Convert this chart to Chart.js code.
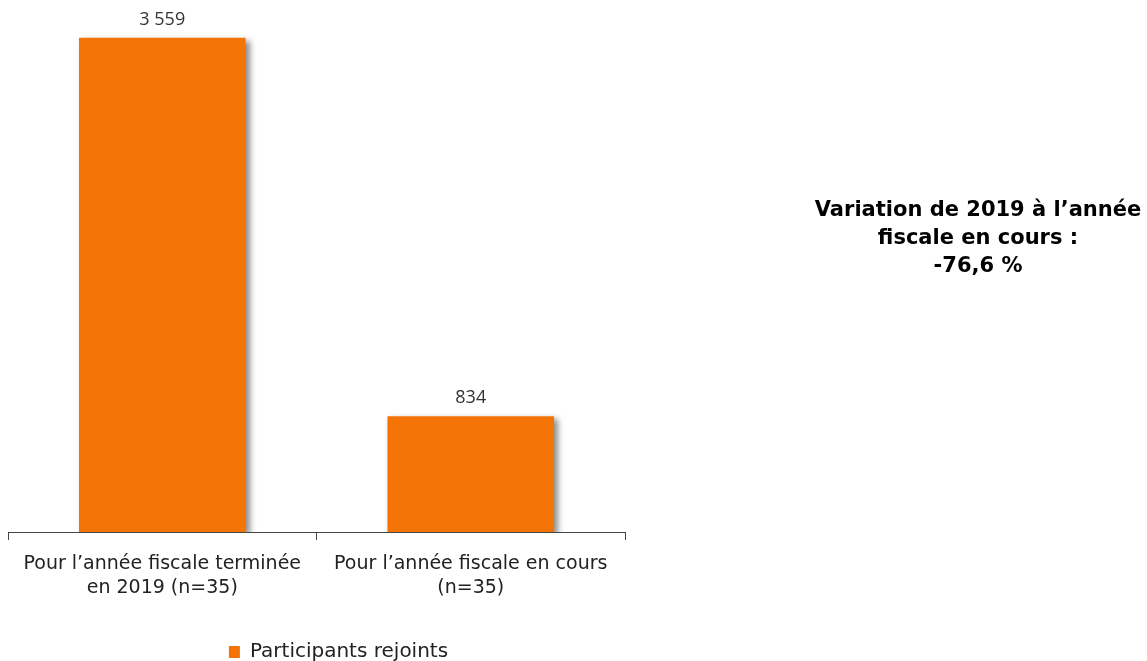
<!DOCTYPE html>
<html>
<head>
<meta charset="utf-8">
<script src="https://cdn.jsdelivr.net/npm/chart.js@4/dist/chart.umd.min.js"></script>
<style>
html,body{margin:0;padding:0;background:#fff;overflow:hidden;}
#wrap{position:relative;width:1147px;height:661px;overflow:hidden;}
</style>
</head>
<body>
<div id="wrap"><canvas id="c" width="1147" height="672"></canvas></div>
<script>
const categories = [["Pour l\u2019ann\u00e9e fiscale termin\u00e9e", "en 2019 (n=35)"], ["Pour l\u2019ann\u00e9e fiscale en cours", "(n=35)"]];
const seriesName = "Participants rejoints";
const values = [3559, 834];
const noteLines = ["Variation de 2019 \u00e0 l\u2019ann\u00e9e", "fiscale en cours :", "-76,6 %"];

const ORANGE = "#F47408";
const FONT = "'DejaVu Sans', sans-serif";

function fmt(v){ return String(v).replace(/\B(?=(\d{3})+(?!\d))/g, " "); }

const shadowPlugin = {
  id: "barShadow",
  beforeDatasetsDraw(chart){
    const ctx = chart.ctx;
    ctx.save();
    ctx.shadowColor = "rgba(0,0,0,0.45)";
    ctx.shadowBlur = 6;
    ctx.shadowOffsetX = 4;
    ctx.shadowOffsetY = 3;
  },
  afterDatasetsDraw(chart){
    chart.ctx.restore();
  }
};

const labelPlugin = {
  id: "valueLabels",
  afterDatasetsDraw(chart){
    const ctx = chart.ctx;
    const meta = chart.getDatasetMeta(0);
    ctx.save();
    ctx.fillStyle = "#333";
    ctx.font = "18px 'Open Sans', sans-serif";
    ctx.textAlign = "center";
    ctx.textBaseline = "middle";
    meta.data.forEach((bar, i) => {
      ctx.fillText(fmt(values[i]), bar.x, bar.y - 18);
    });
    ctx.restore();
  }
};

const notePlugin = {
  id: "note",
  afterDraw(chart){
    const ctx = chart.ctx;
    ctx.save();
    ctx.fillStyle = "#000";
    ctx.font = "bold 21px " + FONT;
    ctx.textAlign = "center";
    ctx.textBaseline = "middle";
    noteLines.forEach((t, i) => ctx.fillText(t, 978, 211 + i * 28));
    ctx.restore();
  }
};

const legendShift = {
  id: "legendShift",
  afterLayout(chart){
    if (chart.legend) { chart.legend.left += 22; chart.legend.right += 22; }
  }
};

new Chart(document.getElementById("c"), {
  type: "bar",
  data: {
    labels: categories,
    datasets: [{
      label: seriesName,
      data: values,
      backgroundColor: ORANGE,
      borderWidth: 0,
      categoryPercentage: 1,
      barPercentage: 0.54
    }]
  },
  options: {
    responsive: false,
    animation: false,
    layout: { padding: { left: 8, right: 522, top: 0, bottom: 0 } },
    scales: {
      x: {
        grid: { display: true, drawOnChartArea: false, drawTicks: true, tickLength: 8, color: "#444", offset: true },
        border: { display: true, color: "#444", width: 1 },
        ticks: { color: "#222", font: { family: FONT, size: 19, lineHeight: "24px" }, padding: 12, maxRotation: 0, autoSkip: false }
      },
      y: {
        display: false,
        min: 0,
        max: 3830
      }
    },
    plugins: {
      legend: {
        position: "bottom",
        labels: { boxWidth: 11, boxHeight: 12, padding: 30, color: "#222", font: { family: FONT, size: 20 } }
      },
      tooltip: { enabled: false }
    }
  },
  plugins: [shadowPlugin, labelPlugin, notePlugin, legendShift]
});
</script>
</body>
</html>
